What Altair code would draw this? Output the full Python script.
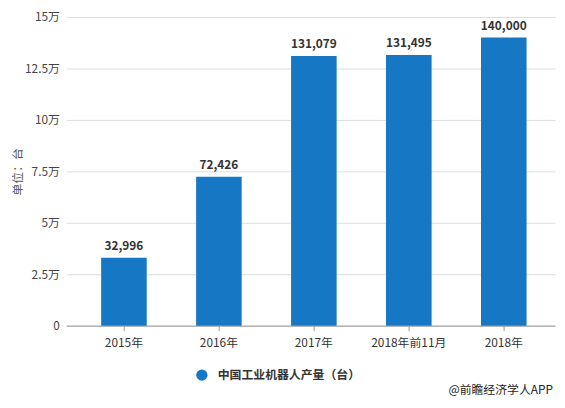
import altair as alt
import pandas as pd

categories = ["2015年", "2016年", "2017年", "2018年前11月", "2018年"]
values = [32996, 72426, 131079, 131495, 140000]
series_name = "中国工业机器人产量（台）"
y_ticks = [0, 25000, 50000, 75000, 100000, 125000, 150000]
footnote = "@前瞻经济学人APP"

FONT = "Noto Sans CJK SC"
BLUE = "#1677c5"

df = pd.DataFrame({"cat": categories, "val": values, "series": [series_name] * len(values)})

x_enc = alt.X(
    "cat:N", sort=categories, title=None,
    scale=alt.Scale(paddingInner=0.52, paddingOuter=0.333, align=0.55),
    axis=alt.Axis(labelAngle=0, labelFont=FONT, labelFontSize=12, labelColor="#333333",
                  labelPadding=7, domainColor="#999999", tickColor="#999999", tickSize=5,
                  grid=False),
)
y_enc = alt.Y(
    "val:Q", title="单位：台",
    scale=alt.Scale(domain=[0, 150000], nice=False),
    axis=alt.Axis(values=y_ticks,
                  labelExpr="datum.value == 0 ? '0' : (datum.value / 10000) + '万'",
                  labelFont=FONT, labelFontSize=12, labelColor="#444444", labelPadding=7,
                  domain=False, ticks=False, gridColor="#dddddd",
                  titleFont=FONT, titleFontSize=12, titleColor="#555555",
                  titleFontWeight="normal", titlePadding=0),
)

bars = alt.Chart(df).mark_bar().encode(
    x=x_enc, y=y_enc,
    color=alt.Color("series:N", scale=alt.Scale(range=[BLUE]),
                    legend=alt.Legend(title=None, orient="none", legendX=131, legendY=356,
                                      symbolType="circle", symbolSize=130,
                                      symbolStrokeWidth=0, labelFont=FONT,
                                      labelFontSize=12, labelFontWeight="bold",
                                      labelColor="#333333", labelOffset=10)),
)

labels = alt.Chart(df).mark_text(
    baseline="bottom", dy=-5, font=FONT, fontSize=12, fontWeight="bold", color="#333333"
).encode(
    x=alt.X("cat:N", sort=categories),
    y=alt.Y("val:Q"),
    text=alt.Text("val:Q", format=","),
)

note = alt.Chart(pd.DataFrame({"t": [footnote]})).mark_text(
    align="right", baseline="middle", font=FONT, fontSize=12, color="#222222"
).encode(x=alt.value(492), y=alt.value(377), text="t:N")

chart = alt.layer(bars, labels, note).properties(
    width=494, height=312,
    autosize=alt.AutoSizeParams(type="none"),
    padding={"left": 59, "top": 7, "right": 2, "bottom": 73},
).configure_view(stroke=None)

chart.save("out.html", embed_options={"renderer": "svg", "actions": False})
